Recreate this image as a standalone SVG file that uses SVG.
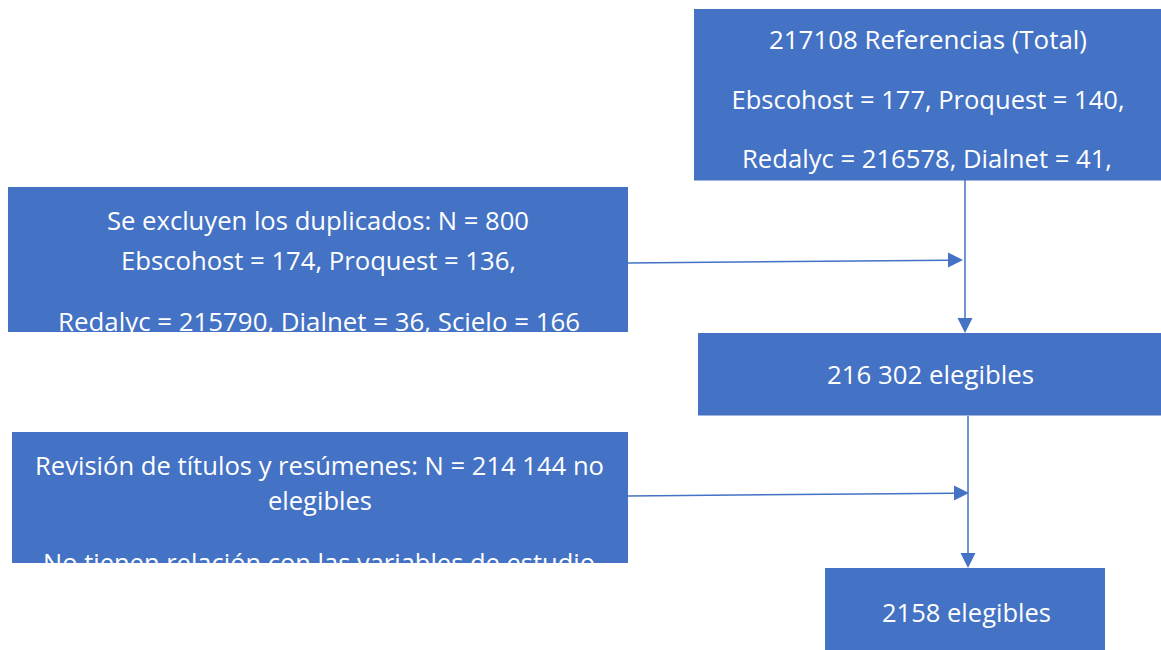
<svg xmlns="http://www.w3.org/2000/svg" width="1161" height="650" viewBox="0 0 1161 650">
<style>
.box{fill:#4472C4}
.t{fill:#ffffff;font-family:"Open Sans","Noto Sans","Liberation Sans",sans-serif;font-size:26px;text-anchor:middle}
.ln{stroke:#4472C4;stroke-width:1.5;fill:none}
.ah{fill:#4472C4}
</style>
<defs>
<clipPath id="c2"><rect x="8" y="187" width="620" height="145"/></clipPath>
<clipPath id="c3"><rect x="12" y="432" width="616" height="131"/></clipPath>
</defs>
<rect width="1161" height="650" fill="#ffffff"/>
<g id="connectors">
<line class="ln" x1="965" y1="180" x2="965" y2="318"/>
<path class="ah" d="M957.5,318 L972.5,318 L965,333 Z"/>
<line class="ln" x1="628" y1="263" x2="948" y2="260.2"/>
<path class="ah" d="M948,252.5 L963,260 L948,267.5 Z"/>
<line class="ln" x1="968" y1="416" x2="968" y2="553"/>
<path class="ah" d="M960.5,553 L975.5,553 L968,568 Z"/>
<line class="ln" x1="628" y1="496" x2="954" y2="493.2"/>
<path class="ah" d="M954,485.5 L969,493 L954,500.5 Z"/>
</g>
<g id="n1">
<rect class="box" x="694" y="9" width="467" height="171.5"/>
<text class="t" x="928" y="49" textLength="318" lengthAdjust="spacingAndGlyphs">217108 Referencias (Total)</text>
<text class="t" x="928" y="109" textLength="393" lengthAdjust="spacingAndGlyphs">Ebscohost = 177, Proquest = 140,</text>
<text class="t" x="927" y="167.5" textLength="370" lengthAdjust="spacingAndGlyphs">Redalyc = 216578, Dialnet = 41,</text>
</g>
<g id="n2">
<rect class="box" x="8" y="187" width="620" height="145"/>
<g clip-path="url(#c2)">
<text class="t" x="318" y="229.5" textLength="422" lengthAdjust="spacingAndGlyphs">Se excluyen los duplicados: N = 800</text>
<text class="t" x="318.5" y="270" textLength="395" lengthAdjust="spacingAndGlyphs">Ebscohost = 174, Proquest = 136,</text>
<text class="t" x="319" y="331" textLength="522" lengthAdjust="spacingAndGlyphs">Redalyc = 215790, Dialnet = 36, Scielo = 166</text>
</g>
</g>
<g id="n3">
<rect class="box" x="12" y="432" width="616" height="131"/>
<g clip-path="url(#c3)">
<text class="t" x="319.5" y="475" textLength="569" lengthAdjust="spacingAndGlyphs">Revisión de títulos y resúmenes: N = 214 144 no</text>
<text class="t" x="320" y="510" textLength="104" lengthAdjust="spacingAndGlyphs">elegibles</text>
<text class="t" x="319" y="571.5" textLength="552" lengthAdjust="spacingAndGlyphs">No tienen relación con las variables de estudio</text>
</g>
</g>
<g id="n4">
<rect class="box" x="698" y="333" width="463" height="82.5"/>
<text class="t" x="930.5" y="384" textLength="207" lengthAdjust="spacingAndGlyphs">216 302 elegibles</text>
</g>
<g id="n5">
<rect class="box" x="825" y="568" width="280" height="82"/>
<text class="t" x="966.5" y="622" textLength="169" lengthAdjust="spacingAndGlyphs">2158 elegibles</text>
</g>
</svg>
